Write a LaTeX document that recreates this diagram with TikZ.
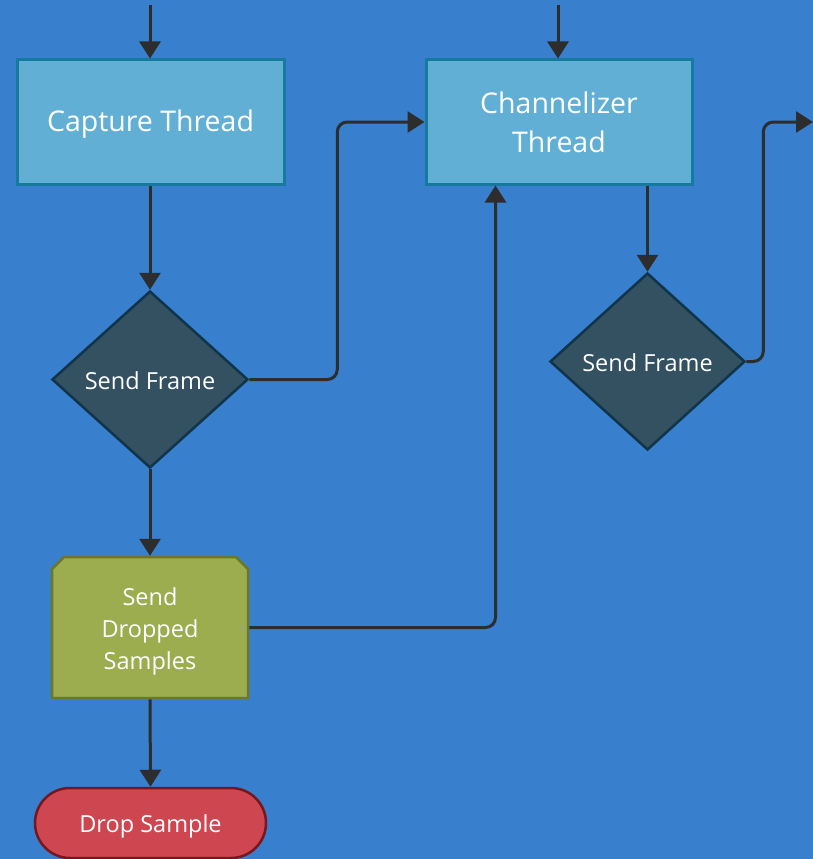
\documentclass[tikz,border=0pt]{standalone}
\usepackage{fontspec}
\setmainfont{Open Sans}
\usetikzlibrary{arrows.meta,shapes.geometric,shapes.misc,calc}
\definecolor{bgblue}{RGB}{56,127,205}
\definecolor{procfill}{RGB}{97,175,213}
\definecolor{procline}{RGB}{22,122,158}
\definecolor{decfill}{RGB}{51,81,97}
\definecolor{decline}{RGB}{16,52,74}
\definecolor{olivefill}{RGB}{155,173,79}
\definecolor{oliveline}{RGB}{108,120,40}
\definecolor{termfill}{RGB}{206,71,80}
\definecolor{termline}{RGB}{120,22,30}
\definecolor{wire}{RGB}{45,45,45}
% label text: baseline set a fixed distance below the node centre
\newcommand\txtsunk[1]{\raisebox{-9.7pt}[0pt][0pt]{#1}}
\newcommand\txtstack[1]{\txtsunk{\begin{tabular}{@{}c@{}}#1\end{tabular}}}
\tikzset{
  procbox/.style={rectangle, draw=procline, fill=procfill, line width=3pt,
    minimum width=267pt, minimum height=124pt, inner sep=0pt,
    text=white, font=\fontsize{28.5}{39}\selectfont},
  decbox/.style={diamond, draw=decline, fill=decfill, line width=2.5pt,
    minimum width=196pt, minimum height=177pt, inner sep=0pt,
    text=white, font=\fontsize{23.5}{28}\selectfont},
  outbox/.style={chamfered rectangle, chamfered rectangle corners={north west,north east},
    chamfered rectangle xsep=12pt, chamfered rectangle ysep=12pt,
    draw=oliveline, fill=olivefill, line width=2.5pt,
    minimum width=196pt, minimum height=141pt, inner sep=0pt,
    text=white, font=\fontsize{23.5}{32}\selectfont},
  termbox/.style={rectangle, rounded corners=35pt, draw=termline, fill=termfill,
    line width=2.5pt, minimum width=231pt, minimum height=70pt, inner sep=0pt,
    text=white, font=\fontsize{23.5}{28}\selectfont},
  conn/.style={draw=wire, line width=3pt,
    -{Triangle[width=21pt,length=17pt]}, rounded corners=10pt}
}
\begin{document}
\begin{tikzpicture}[x=1pt,y=-1pt]
  \fill[bgblue] (0,0) rectangle (813,859);
  \useasboundingbox (0,0) rectangle (813,859);

  % entry and exit points at the picture edges
  \coordinate (capIn) at (150,5);
  \coordinate (chanIn) at (558,5);
  \coordinate (chanOut) at (813,122);

  % nodes
  \node[procbox] (cap) at (150.5,122) {\txtsunk{Capture Thread}};
  \node[procbox, minimum width=266pt] (chan) at (559,122) {\txtstack{Channelizer\\Thread}};
  \node[decbox] (sf1) at (150,379.5) {\txtsunk{Send Frame}};
  \node[outbox] (sds) at (150,627.5) {\txtstack{Send\\Dropped\\Samples}};
  \node[termbox] (drop) at (150.5,823) {\txtsunk{Drop Sample}};
  \node[decbox, minimum width=195pt] (sf2) at (647.5,361.5) {\txtsunk{Send Frame}};

  % connectors
  \draw[conn] (capIn) -- (capIn |- cap.north);
  \draw[conn] (chanIn) -- (chanIn |- chan.north);
  \draw[conn] (cap.south -| sf1.north) -- (sf1.north);
  \draw[conn] (sf1.east) -- ++(88,0) |- (chan.west);
  \draw[conn] (sf1.south) -- (sds.north);
  \draw[conn] (sds.east) -| ($(chan.south west)+(71,0)$);
  \draw[conn] (sds.south) -- (drop.north);
  \draw[conn] (chan.south -| sf2.north) -- (sf2.north);
  \draw[conn] (sf2.east) -- ++(17,0) |- (chanOut);
\end{tikzpicture}
\end{document}
